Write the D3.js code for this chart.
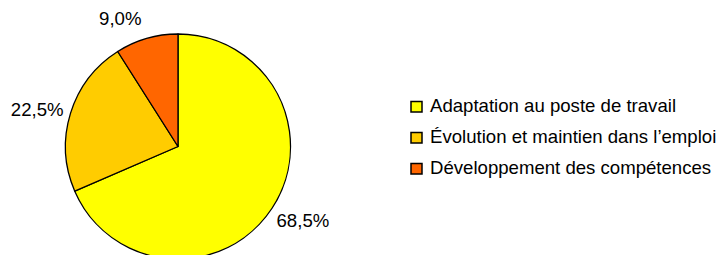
<!DOCTYPE html>
<html>
<head>
<meta charset="utf-8">
<script src="https://cdn.jsdelivr.net/npm/d3@7"></script>
<style>
  html, body { margin: 0; padding: 0; background: #fff; }
  svg { display: block; }
  text { font-family: "Liberation Sans", Arial, sans-serif; fill: #000; }
</style>
</head>
<body>
<svg id="chart" width="716" height="255"></svg>
<script>
const categories = ["Adaptation au poste de travail", "Évolution et maintien dans l’emploi", "Développement des compétences"];
const values = [68.5, 22.5, 9.0];
const valueLabels = ["68,5%", "22,5%", "9,0%"];
const colors = ["#FFFF00", "#FFCC00", "#FF6600"];

// small label nudges (layout only)
const labelNudge = [[-1, 6], [-1, -7], [-6, 5]];

const svg = d3.select("#chart");
const cx = 178, cy = 146.5, r = 112.5;
const fontSize = 18.6;

const pie = d3.pie().sort(null).value(d => d)
  .startAngle(0).endAngle(2 * Math.PI);
const arcs = pie(values);
const arc = d3.arc().innerRadius(0).outerRadius(r);

const g = svg.append("g").attr("transform", `translate(${cx},${cy})`);
g.selectAll("path").data(arcs).join("path")
  .attr("d", arc)
  .attr("fill", (d, i) => colors[i])
  .attr("stroke", "#000")
  .attr("stroke-width", 1.3)
  .attr("stroke-linejoin", "round");

// labels outside
const labelR = 143, labelShift = -5 * Math.PI / 180;
g.selectAll("text.lbl").data(arcs).join("text")
  .attr("class", "lbl")
  .attr("x", (d, i) => Math.sin((d.startAngle + d.endAngle) / 2 + labelShift) * labelR + labelNudge[i][0])
  .attr("y", (d, i) => -Math.cos((d.startAngle + d.endAngle) / 2 + labelShift) * labelR + labelNudge[i][1])
  .attr("dy", "0.36em")
  .attr("text-anchor", "middle")
  .attr("font-size", fontSize)
  .text((d, i) => valueLabels[i]);

// legend
const legend = svg.append("g").attr("transform", "translate(410,0)");
const ly = d3.scalePoint().domain(categories).range([112, 174]);
const items = legend.selectAll("g").data(categories).join("g")
  .attr("transform", d => `translate(0,${ly(d)})`);
items.append("rect")
  .attr("x", 1).attr("y", -10.5)
  .attr("width", 11).attr("height", 10.5)
  .attr("fill", (d, i) => colors[i])
  .attr("stroke", "#000").attr("stroke-width", 1.5);
items.append("text")
  .attr("x", 20).attr("y", 0)
  .attr("font-size", fontSize)
  .text(d => d);
</script>
</body>
</html>
